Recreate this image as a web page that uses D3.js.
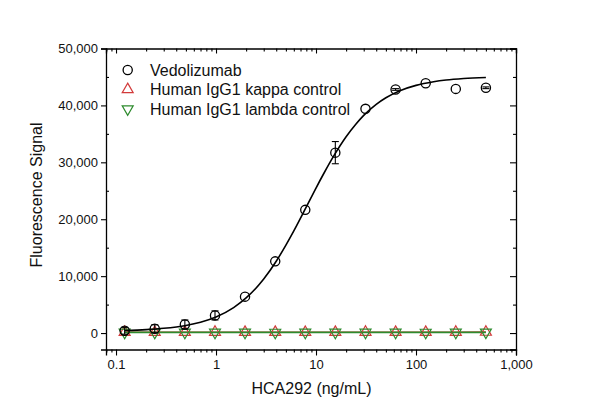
<!DOCTYPE html>
<html>
<head>
<meta charset="utf-8">
<script src="https://cdn.jsdelivr.net/npm/d3@7"></script>
<style>
  html, body { margin: 0; padding: 0; background: #fff; }
  svg { display: block; font-family: "Liberation Sans", Arial, sans-serif; }
</style>
</head>
<body>
<svg id="chart" width="600" height="418"></svg>
<script>
// ---------------- DATA ----------------
const concentrations = [0.122, 0.244, 0.488, 0.977, 1.95, 3.91, 7.81, 15.6, 31.25, 62.5, 125, 250, 500];
const vedolizumab    = [400, 750, 1500, 3100, 6400, 12600, 21650, 31700, 39400, 42800, 43900, 42900, 43100];
const vedolizumabErr = [600, 700, 800, 800, 0, 0, 0, 1950, 0, 150, 0, 0, 150];
const kappaControl   = [150, 140, 150, 160, 150, 150, 140, 150, 160, 150, 150, 160, 170];
const lambdaControl  = [120, 110, 120, 120, 120, 110, 120, 120, 120, 120, 110, 120, 130];
// fitted curve
const fitX = [0.122, 0.2, 0.3, 0.5, 0.7, 1, 1.5, 2, 3, 4, 5, 6, 8, 10, 12, 15, 20, 25, 30, 40, 50, 70, 100, 150, 200, 300, 500];
const fitY = [460, 610, 835, 1340, 1910, 2830, 4480, 6170, 9490, 12620, 15450, 17950, 22160, 25480, 28080, 31080, 34490, 36690, 38240, 40180, 41340, 42620, 43520, 44160, 44460, 44720, 44910];
const yTicks = [0, 10000, 20000, 30000, 40000, 50000];
const yMinorTicks = [5000, 15000, 25000, 35000, 45000];
const xTicks = [0.1, 1, 10, 100, 1000];
const seriesNames = ["Vedolizumab", "Human IgG1 kappa control", "Human IgG1 lambda control"];
const xTitle = "HCA292 (ng/mL)";
const yTitle = "Fluorescence Signal";

// ---------------- LAYOUT ----------------
const svg = d3.select("#chart");
const L = 106, R = 516, T = 48.5, B = 349.5;
const x = d3.scaleLog().domain([0.0794, 1000]).range([L, R]);
const y = d3.scaleLinear().domain([-2890, 50000]).range([B, T]);

const red = "#d23a3a", green = "#2e8b2e";

const xMinor = [];
for (let d = 0.1; d < 1000; d *= 10) {
  for (let k = 2; k <= 9; k++) xMinor.push(+(d * k).toPrecision(3));
}
xMinor.unshift(0.08, 0.09);

function styleAxis(g) {
  g.select(".domain").attr("stroke", "#000").attr("stroke-width", 1.3);
  g.selectAll(".tick line").attr("stroke", "#000").attr("stroke-width", 1.1);
  g.selectAll("text").attr("fill", "#111").attr("font-size", 13).attr("font-family", "Liberation Sans, Arial, sans-serif");
}

// bottom axis
svg.append("g").attr("transform", `translate(0,${B})`)
  .call(d3.axisBottom(x).tickValues(xTicks).tickFormat(d3.format(",")).tickSize(6).tickPadding(4))
  .call(styleAxis);
svg.append("g").attr("transform", `translate(0,${B})`)
  .call(d3.axisBottom(x).tickValues(xMinor).tickFormat("").tickSize(3))
  .call(styleAxis).call(g => g.select(".domain").remove());
// top axis (inward)
svg.append("g").attr("transform", `translate(0,${T})`)
  .call(d3.axisTop(x).tickValues(xTicks).tickFormat("").tickSize(-5))
  .call(styleAxis);
svg.append("g").attr("transform", `translate(0,${T})`)
  .call(d3.axisTop(x).tickValues(xMinor).tickFormat("").tickSize(-3))
  .call(styleAxis).call(g => g.select(".domain").remove());
// left axis
svg.append("g").attr("transform", `translate(${L},0)`)
  .call(d3.axisLeft(y).tickValues(yTicks).tickFormat(d3.format(",")).tickSize(5).tickPadding(3))
  .call(styleAxis);
svg.append("g").attr("transform", `translate(${L},0)`)
  .call(d3.axisLeft(y).tickValues(yMinorTicks).tickFormat("").tickSize(-3))
  .call(styleAxis).call(g => g.select(".domain").remove());
// right axis (inward)
svg.append("g").attr("transform", `translate(${R},0)`)
  .call(d3.axisRight(y).tickValues(yTicks).tickFormat("").tickSize(-6))
  .call(styleAxis);
svg.append("g").attr("transform", `translate(${R},0)`)
  .call(d3.axisRight(y).tickValues(yMinorTicks).tickFormat("").tickSize(-3))
  .call(styleAxis).call(g => g.select(".domain").remove());

// titles
svg.append("text").attr("x", 311.5).attr("y", 394).attr("text-anchor", "middle")
  .attr("font-size", 16).attr("fill", "#111").text(xTitle);
svg.append("text").attr("transform", `translate(42,195) rotate(-90)`).attr("text-anchor", "middle")
  .attr("font-size", 16).attr("fill", "#111").text(yTitle);

// ---------------- MARKS ----------------
const line = d3.line().x(d => x(d[0])).y(d => y(d[1]));
const triUp = d3.symbol().type(d3.symbolTriangle).size(52);

// kappa control line
svg.append("path").attr("d", line(concentrations.map((c, i) => [c, kappaControl[i]])))
  .attr("fill", "none").attr("stroke", red).attr("stroke-width", 1.5);
// lambda control line
svg.append("path").attr("d", line(concentrations.map((c, i) => [c, lambdaControl[i]])))
  .attr("fill", "none").attr("stroke", green).attr("stroke-width", 1.8);

svg.append("g").selectAll("path").data(concentrations).join("path")
  .attr("transform", (c, i) => `translate(${x(c)},${y(kappaControl[i])})`)
  .attr("d", triUp).attr("fill", "none").attr("stroke", red).attr("stroke-width", 1.2);
svg.append("g").selectAll("path").data(concentrations).join("path")
  .attr("transform", (c, i) => `translate(${x(c)},${y(lambdaControl[i])}) rotate(180)`)
  .attr("d", triUp).attr("fill", "none").attr("stroke", green).attr("stroke-width", 1.2);

// fit curve
svg.append("path").attr("d", d3.line().x(d => x(d[0])).y(d => y(d[1])).curve(d3.curveMonotoneX)(fitX.map((c, i) => [c, fitY[i]])))
  .attr("fill", "none").attr("stroke", "#000").attr("stroke-width", 1.6);

// error bars
const eb = svg.append("g").attr("stroke", "#000").attr("stroke-width", 1.1);
concentrations.forEach((c, i) => {
  if (!vedolizumabErr[i]) return;
  const cx = x(c), y1 = y(vedolizumab[i] + vedolizumabErr[i]), y2 = y(vedolizumab[i] - vedolizumabErr[i]);
  eb.append("line").attr("x1", cx).attr("x2", cx).attr("y1", y1).attr("y2", y2);
  eb.append("line").attr("x1", cx - 3.5).attr("x2", cx + 3.5).attr("y1", y1).attr("y2", y1);
  eb.append("line").attr("x1", cx - 3.5).attr("x2", cx + 3.5).attr("y1", y2).attr("y2", y2);
});
// vedolizumab markers
svg.append("g").selectAll("circle").data(concentrations).join("circle")
  .attr("cx", c => x(c)).attr("cy", (c, i) => y(vedolizumab[i])).attr("r", 4.6)
  .attr("fill", "none").attr("stroke", "#000").attr("stroke-width", 1.3);

// ---------------- LEGEND ----------------
const lg = svg.append("g");
const rowsY = [70, 89.5, 109];
lg.append("circle").attr("cx", 127.7).attr("cy", rowsY[0]).attr("r", 4.6)
  .attr("fill", "none").attr("stroke", "#000").attr("stroke-width", 1.3);
lg.append("path").attr("transform", `translate(127.7,${rowsY[1]})`).attr("d", triUp)
  .attr("fill", "none").attr("stroke", red).attr("stroke-width", 1.2);
lg.append("path").attr("transform", `translate(127.7,${rowsY[2]}) rotate(180)`).attr("d", triUp)
  .attr("fill", "none").attr("stroke", green).attr("stroke-width", 1.2);
seriesNames.forEach((s, i) => {
  lg.append("text").attr("x", 150).attr("y", rowsY[i] + 5.8).attr("font-size", 16)
    .attr("fill", "#111").text(s);
});
</script>
</body>
</html>
